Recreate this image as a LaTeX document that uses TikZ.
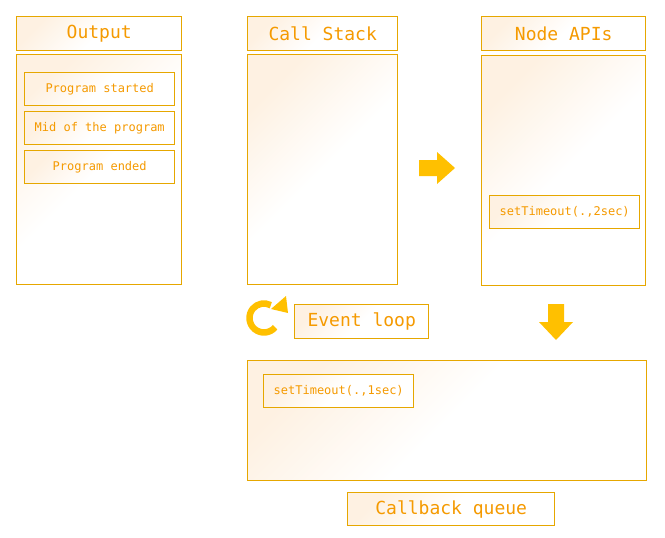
\documentclass[tikz,border=0pt]{standalone}
\usepackage{fontspec}
\setmonofont{DejaVu Sans Mono}
\usetikzlibrary{positioning}
\definecolor{gold}{HTML}{E6A700}
\definecolor{txtorange}{HTML}{F59A00}
\definecolor{arrowgold}{HTML}{FFC000}
\definecolor{peach}{HTML}{FEF1E2}
\tikzset{
  box/.style={draw=gold, line width=1.4pt, anchor=north west, inner sep=0pt,
    top color=peach, bottom color=white, middle color=white, shading angle=45},
  title/.style={box, text=txtorange, font=\ttfamily\fontsize{18}{18}\selectfont},
  item/.style={box, text=txtorange, font=\ttfamily\fontsize{12}{12}\selectfont,
    minimum width=150pt, minimum height=33pt}
}
\begin{document}
\begin{tikzpicture}[x=1pt,y=-1pt]
\useasboundingbox (0,0) rectangle (665,538);

% output column
\node[title, minimum width=165pt, minimum height=34pt] (outtitle) at (16,16) {Output};
\node[box, minimum width=165pt, minimum height=230pt] (outbody) at (16,54) {};
\node[item] (started) at (24,72) {Program started};
\node[item] (mid) at (24,111) {Mid of the program};
\node[item] (ended) at (24,150) {Program ended};

% call stack
\node[title, minimum width=150pt, minimum height=34pt] (stacktitle) at (247,16) {Call Stack};
\node[box, minimum width=150pt, minimum height=230pt] (stackbody) at (247,54) {};

% node apis
\node[title, minimum width=164pt, minimum height=34pt] (apititle) at (481,16) {Node APIs};
\node[box, minimum width=164pt, minimum height=230pt] (apibody) at (481,55) {};
\node[item] (timer2) at (489,195) {setTimeout(.,2sec)};

% callback queue
\node[box, minimum width=399pt, minimum height=120pt] (queuebody) at (247,360) {};
\node[item] (timer1) at (263,374) {setTimeout(.,1sec)};
\node[title, minimum width=207pt, minimum height=33pt] (queuetitle) at (347,492) {Callback queue};

% event loop
\node[title, minimum width=134pt, minimum height=34pt] (loop) at (294,304) {Event loop};
\draw[arrowgold, line width=6.5pt] (275.1,327.3) arc[start angle=40, end angle=298, radius=14.5];
\fill[arrowgold] (286,296) -- (288,313) -- (271,309) -- cycle;

% big arrows
\fill[arrowgold] (419,160) -- (437,160) -- (437,152) -- (455,168) -- (437,184) -- (437,176) -- (419,176) -- cycle;
\fill[arrowgold] (548,304) -- (564,304) -- (564,322) -- (573,322) -- (556,340) -- (539,322) -- (548,322) -- cycle;
\end{tikzpicture}
\end{document}
